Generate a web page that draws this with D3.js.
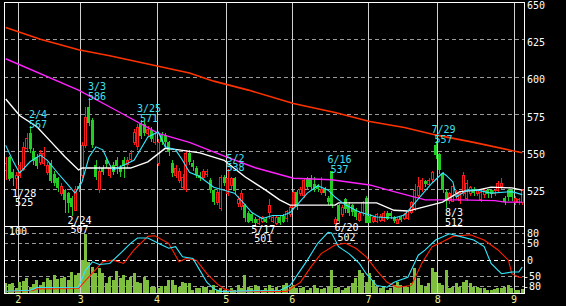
<!DOCTYPE html>
<html>
<head>
<meta charset="utf-8">
<title>Daily chart</title>
<script src="https://d3js.org/d3.v7.min.js"></script>
<style>
  body { margin: 0; background: #000; }
  svg { display: block; }
  text { font-family: "DejaVu Sans Mono", monospace; font-size: 10px; }
</style>
</head>
<body>
<svg width="566" height="306"></svg>
<script>
// daily prices, one entry per trading day (late Jan .. early Sep)
const opens = [537,546,536,532,534,538,552,562,550,546, 543,542,536,542,535,532,522,524,522,519,
  511,527,534,554,580,571,541,525,539,544, 534,541,544,539,544,541,545,556,553,569,
  568,562,564,556,542,561,561,556,542,534, 531,526,525,549,542,539,534,533,535,531,
  524,516,512,533,522,527,532,515,513,514, 509,508,505,502,503,505,509,503,502,506,
  507,505,508,513,523,522,521,532,532,528, 527,523,525,519,537,502,514,508,518,515,
  514,511,504,509,519,507,503,503,504,504, 509,509,506,502,506,505,505,509,512,521,
  525,530,528,531,554,548,535,523,517,517, 520,517,522,519,522,525,522,518,521,524,
  524,522,524,527,519,524,524,516,516,516];
const highs = [546,547,538,536,543,556,562,567,552,548, 551,553,543,544,537,533,529,525,523,520,
  527,529,556,580,586,572,544,540,541,546, 541,543,546,541,546,546,551,565,568,571,
  570,567,566,563,558,563,562,557,544,541, 539,535,551,551,544,540,536,538,538,532,
  525,525,534,534,538,533,533,520,524,515, 510,509,506,506,507,506,518,507,507,507,
  508,511,514,524,524,526,532,533,534,533, 528,533,526,520,537,506,515,514,519,516,
  515,512,510,517,520,508,507,509,508,510, 510,510,507,506,507,509,511,517,528,533,
  532,531,532,537,557,549,536,524,523,528, 524,523,536,531,527,526,525,524,525,525,
  525,525,530,532,520,525,525,520,519,525];
const lows = [531,530,527,525,532,537,550,549,541,538, 541,540,534,529,527,523,520,509,509,507,
  510,523,532,552,567,552,531,522,534,539, 532,534,535,533,532,539,543,554,551,558,
  560,560,556,554,540,554,552,547,533,532, 529,524,523,541,537,532,530,531,533,522,
  514,514,510,527,520,525,521,513,511,503, 502,502,501,501,502,502,505,502,501,501,
  502,503,506,511,511,520,519,524,524,523, 523,521,520,514,512,503,502,506,509,507,
  507,504,503,507,502,502,502,502,503,503, 504,505,502,502,503,504,504,508,510,519,
  523,526,527,529,545,535,522,512,515,516, 518,515,520,517,520,520,520,516,519,519,
  519,520,522,525,514,517,517,514,514,514];
const closes = [542,531,532,534,541,553,559,551,543,540, 549,549,541,530,529,525,527,517,515,513,
  525,525,554,573,569,554,533,537,536,541, 539,536,540,536,540,544,549,563,566,560,
  562,565,558,562,556,556,556,549,535,539, 537,533,549,543,539,534,532,537,537,524,
  516,523,533,529,532,532,523,518,522,505, 503,503,502,505,506,503,514,506,506,502,
  503,510,513,523,513,525,531,526,526,525, 525,525,522,516,514,505,503,513,511,509,
  509,506,509,516,502,502,506,508,507,509, 505,507,503,505,504,508,510,516,524,527,
  531,528,531,536,547,537,524,517,522,527, 523,522,534,529,526,522,524,523,524,521,
  521,524,529,529,516,519,519,519,518,524];
const volumes = [10,9,10,5,11,12,15,6,9,13, 8,11,15,13,18,14,15,16,13,21,
  18,20,33,59,31,26,20,25,20,10, 16,13,22,15,18,13,16,20,11,10,
  16,13,6,6,5,7,7,13,13,8, 6,11,10,10,3,5,5,6,6,3,
  8,3,5,3,1,5,3,8,5,18, 6,5,8,6,3,5,8,5,6,3,
  8,10,6,8,5,5,6,3,5,8, 5,4,5,6,23,5,6,3,5,6,
  10,15,23,20,11,20,13,6,5,6, 3,5,8,11,8,6,6,10,25,15,
  8,6,10,25,21,10,8,23,5,6, 10,6,11,13,10,6,6,5,5,3,
  3,4,5,5,6,8,5,3,3,4];

// moving averages: [day index, price]
const maLong = [[0,633],[10,625],[21,618],[30,614],[40,609],[53,602.5],[60,597],[70,591],
  [83,582],[95,576],[105,570],[115,566],[124,561],[135,556],[149,549]];
const maMid = [[0,612],[21,591],[33,576],[44,562],[53,556],[64,546],[72,539],[83,532],
  [94,531],[105,527.5],[112,523],[121,517.5],[131,517.5],[141,517],[144,516],[149,516]];
const maWhite = [[0,585],[4,574],[9,566.5],[13,556.5],[17,546.5],[21,537.5],[22,538.8],[36,538.8],
  [41,543],[46,552],[50,551],[56,549],[63,544],[69,533],[75,524],[79,517.5],[82,514],[95,514],
  [96,515.5],[107,515.5],[112,510.5],[116,510],[126,516],[131,523],[136,524],[140,526],[146,525.5],[149,524]];
const maCyan = [[0,554],[2,544],[4,535.5],[7,543],[10,547.5],[12,544],[15,535.5],[18,527.5],
  [20,522],[22,529.5],[24,546],[26,553],[28,551],[30,541],[31,537.5],[37,544],[41,559.6],
  [44,563],[46,553],[49,551],[51,544],[53,536],[56,533],[60,526],[63,524],[66,522],[68,517],
  [71,509],[74,505],[77,507],[80,507],[82,509],[84,514],[87,522],[90,527],[93,524],[95,519.4],
  [98,514],[102,509.4],[107,506],[112,505.4],[115,507.4],[117,512.7],[120,520.8],[123,528.8],
  [126,535.5],[127,534],[129,529.5],[130,519.4],[133,524],[136,524],[140,522],[146,523],[149,521]];

// oscillator (lower panel), -100..100
const oscCyan = [[0,-96],[7,-93],[9,-85],[21,-84],[23,-33],[25,-7],[27,-15],[30,-12],[33,18],
  [36,49],[38,65],[41,65],[44,49],[47,34],[49,39],[51,8],[54,3],[56,-33],[58,-69],[60,-89],
  [62,-97],[70,-95],[79,-94],[82,-79],[83,-64],[87,-2],[90,49],[93,82],[94,80],[96,39],[99,18],
  [102,-12],[104,-43],[107,-79],[110,-84],[112,-69],[116,-54],[119,13],[121,29],[124,59],
  [128,78],[131,70],[135,59],[138,39],[140,-12],[143,-43],[146,-38],[148,-38],[149,-23]];
const oscRed = [[0,-97],[8,-94],[9,-89],[21,-88],[24,-53],[28,-7],[31,-2],[34,-12],[37,29],
  [41,70],[43,72],[47,49],[50,-7],[52,3],[55,-2],[58,-43],[61,-74],[63,-89],[66,-97],[81,-97],
  [85,-69],[88,-23],[91,18],[95,44],[98,49],[101,34],[104,8],[107,-33],[110,-69],[113,-84],
  [117,-79],[120,-12],[123,39],[126,54],[129,70],[134,75],[138,59],[142,29],[145,-2],[146,-43],
  [148,-54],[149,-54]];

const monthStarts = [4, 22, 44, 64, 83, 105, 125, 147];
const monthLabels = ["2", "3", "4", "5", "6", "7", "8", "9"];
const priceTicks = [525, 550, 575, 600, 625, 650];
const oscTicks = [80, 50, 0, -50, -80];
const highMarks = [[7, "2/4"], [24, "3/3"], [39, "3/25"], [64, "5/2"], [94, "6/16"], [124, "7/29"]];
const lowMarks = [[3, "1/28"], [19, "2/24"], [72, "5/17"], [96, "6/20"], [127, "8/3"]];

const svg = d3.select("svg");
const N = opens.length;
const pL = 4, pR = 524, pT = 2, pM = 226, pB = 293;

const x = d3.scaleLinear().domain([0, N]).range([pL, pR]);
const xc = i => x(i + 0.5);
const y = d3.scaleLinear().domain([500, 650]).range([pM, pT]);
const yOsc = d3.scaleLinear().domain([-100, 100]).range([292.5, 226.5]);
const yVol = d3.scaleLinear().domain([0, 67]).range([pB, pM]);

svg.append("rect").attr("width", 566).attr("height", 306).attr("fill", "#000");

svg.append("defs").append("clipPath").attr("id", "main")
  .append("rect").attr("x", pL).attr("y", pT).attr("width", pR - pL).attr("height", pM - pT);

// grid
const grid = svg.append("g").attr("shape-rendering", "crispEdges");
grid.selectAll(".hp").data(priceTicks.filter(v => v < 650)).join("line")
  .attr("x1", pL).attr("x2", pR)
  .attr("y1", d => Math.round(y(d)) + 0.5).attr("y2", d => Math.round(y(d)) + 0.5)
  .attr("stroke", "#9a9a9a").attr("stroke-dasharray", "4,3");
grid.selectAll(".ho").data(oscTicks).join("line")
  .attr("x1", pL).attr("x2", pR)
  .attr("y1", d => Math.round(yOsc(d)) + 0.5).attr("y2", d => Math.round(yOsc(d)) + 0.5)
  .attr("stroke", d => d === 0 ? "#ffffff" : "#9a9a9a").attr("stroke-dasharray", "4,3");
grid.selectAll(".v").data(monthStarts).join("line")
  .attr("x1", d => Math.round(x(d)) + 0.5).attr("x2", d => Math.round(x(d)) + 0.5)
  .attr("y1", pT).attr("y2", pB)
  .attr("stroke", "#d0d0d0");

// volume
svg.append("g").attr("shape-rendering", "crispEdges")
  .selectAll("rect").data(volumes).join("rect")
  .attr("x", (d, i) => Math.round(xc(i) - 1.5))
  .attr("width", 3)
  .attr("y", d => yVol(d))
  .attr("height", d => pB - yVol(d))
  .attr("fill", "#7fbf3f");

// candles
const up = i => closes[i] >= opens[i];
const cg = svg.append("g").attr("clip-path", "url(#main)").attr("shape-rendering", "crispEdges");
const days = d3.range(N);
cg.selectAll("line").data(days).join("line")
  .attr("x1", i => Math.round(xc(i)) + 0.5).attr("x2", i => Math.round(xc(i)) + 0.5)
  .attr("y1", i => y(highs[i])).attr("y2", i => y(lows[i]))
  .attr("stroke", i => up(i) ? "#ff1a1a" : "#22cc22");
cg.selectAll("rect").data(days).join("rect")
  .attr("x", i => Math.round(xc(i) - 1.5) + (up(i) ? 0.5 : 0))
  .attr("width", i => up(i) ? 2 : 3)
  .attr("y", i => Math.round(y(Math.max(opens[i], closes[i]))) + (up(i) ? 0.5 : 0))
  .attr("height", i => Math.max(1, Math.round(y(Math.min(opens[i], closes[i])) - y(Math.max(opens[i], closes[i])))))
  .attr("fill", i => up(i) ? "#000" : "#22cc22")
  .attr("stroke", i => up(i) ? "#ff1a1a" : "none");

// moving averages
const line = d3.line().x(d => xc(d[0])).y(d => y(d[1]));
const lines = svg.append("g").attr("clip-path", "url(#main)").attr("fill", "none");
lines.append("path").attr("d", line(maLong)).attr("stroke", "#ff3300").attr("stroke-width", 1.6);
lines.append("path").attr("d", line(maMid)).attr("stroke", "#ff22ff").attr("stroke-width", 1.4);
lines.append("path").attr("d", line(maWhite)).attr("stroke", "#ffffff").attr("stroke-width", 1.4);
lines.append("path").attr("d", line(maCyan)).attr("stroke", "#33e8ff").attr("stroke-width", 1.1);

// oscillator
const oline = d3.line().x(d => xc(d[0])).y(d => yOsc(d[1]));
svg.append("path").attr("d", oline(oscRed)).attr("fill", "none").attr("stroke", "#ff2200").attr("stroke-width", 1.1);
svg.append("path").attr("d", oline(oscCyan)).attr("fill", "none").attr("stroke", "#33e8ff").attr("stroke-width", 1.1);

// frame
const frame = svg.append("g").attr("stroke", "#fff").attr("fill", "none").attr("shape-rendering", "crispEdges");
frame.append("rect").attr("x", pL + 0.5).attr("y", pT + 0.5).attr("width", pR - pL).attr("height", pB - pT);
frame.append("line").attr("x1", pL).attr("x2", pR).attr("y1", pM + 0.5).attr("y2", pM + 0.5);

// high / low annotations
const notes = svg.append("g").attr("text-anchor", "middle");
highMarks.forEach(([i, d]) => {
  const g = notes.append("g").attr("fill", "#40e0f0");
  g.append("text").attr("x", xc(i) + 8).attr("y", y(highs[i]) - 7.5).text(d);
  g.append("text").attr("x", xc(i) + 8).attr("y", y(highs[i]) + 2).text(highs[i]);
});
lowMarks.forEach(([i, d]) => {
  const g = notes.append("g").attr("fill", "#ffffff");
  g.append("text").attr("x", xc(i) + 8).attr("y", y(lows[i]) + 8.2).text(d);
  g.append("text").attr("x", xc(i) + 8).attr("y", y(lows[i]) + 17.6).text(lows[i]);
});

// axes
const ay = svg.append("g").attr("transform", `translate(${pR},0)`)
  .call(d3.axisRight(y).tickValues(priceTicks).tickSize(0).tickPadding(3));
ay.select(".domain").remove();
ay.selectAll("text").attr("fill", "#fff").attr("dy", "0.61em");

const ao = svg.append("g").attr("transform", `translate(${pR},0)`)
  .call(d3.axisRight(yOsc).tickValues(oscTicks).tickSize(0).tickPadding(3)
    .tickFormat(d => d < 0 ? "-" + (-d) : String(d)));
ao.select(".domain").remove();
ao.selectAll("text").attr("fill", "#fff").attr("dy", "0.36em")
  .attr("x", d => d < 0 ? -1 : 3);

const ax = svg.append("g").attr("transform", `translate(0,${pB})`)
  .call(d3.axisBottom(x).tickValues(monthStarts).tickSize(0).tickPadding(2.5)
    .tickFormat((d, k) => monthLabels[k]));
ax.select(".domain").remove();
ax.selectAll("text").attr("fill", "#eeee99");

svg.append("text").attr("x", 9).attr("y", 235).attr("fill", "#fff").text("100");
</script>
</body>
</html>
